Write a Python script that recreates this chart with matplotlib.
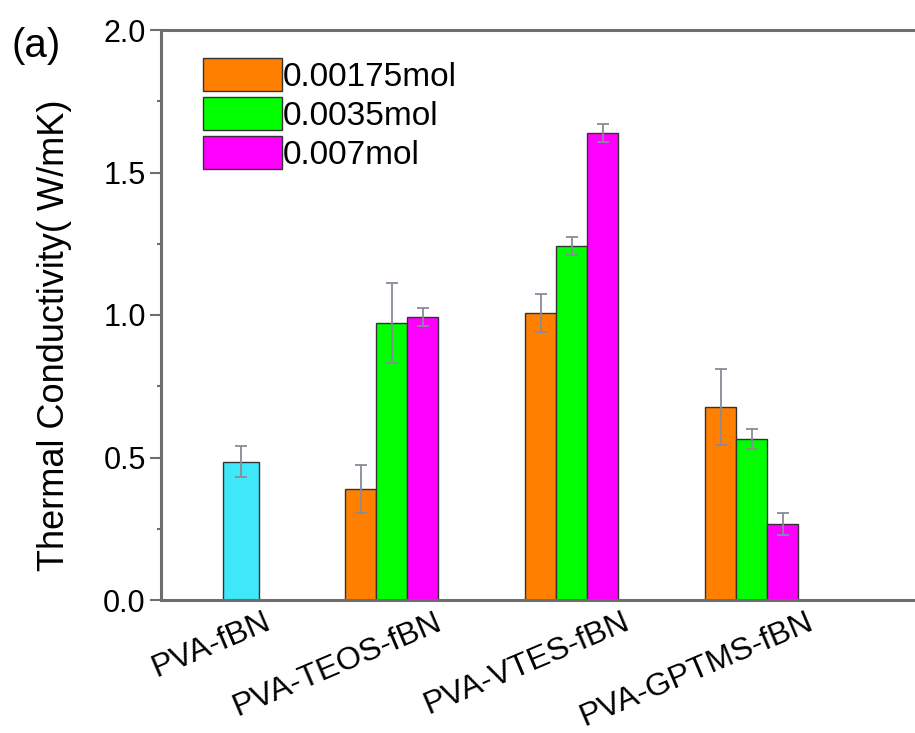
import numpy as np
import matplotlib
matplotlib.use("Agg")
import matplotlib.pyplot as plt

plt.rcParams['font.family'] = ['Liberation Sans', 'DejaVu Sans']

# data
categories = ['PVA-fBN', 'PVA-TEOS-fBN', 'PVA-VTES-fBN', 'PVA-GPTMS-fBN']
series = ['0.00175mol', '0.0035mol', '0.007mol']

pva_fbn = 0.485
pva_fbn_err = 0.055

# TEOS, VTES, GPTMS groups
vals_00175 = [0.39, 1.007, 0.677]
err_00175 = [0.085, 0.067, 0.133]
vals_0035 = [0.972, 1.242, 0.565]
err_0035 = [0.14, 0.032, 0.035]
vals_007 = [0.993, 1.638, 0.267]
err_007 = [0.03, 0.032, 0.038]

colors = ['#FF8000', '#00FF00', '#FF00FF']
cyan = '#3FE8F8'
err_color = '#8a8a98'
spine_color = '#6e6e6e'

# layout
group_x = np.array([1.0, 2.0, 3.0])
single_x = 0.162
w = 0.172
label_x = [0.285, 1.235, 2.28, 3.3]

fig = plt.figure(figsize=(9.15, 7.33), dpi=100)
ax = fig.add_axes([161 / 915, 133 / 733, 754 / 915, 570 / 733])

ekw = dict(ecolor=err_color, elinewidth=1.3, capsize=4.3, capthick=1.3)

ax.bar(single_x, pva_fbn, width=0.2, color=cyan, edgecolor='#333333',
       linewidth=1.0, yerr=pva_fbn_err, error_kw=ekw, zorder=2)

all_vals = [vals_00175, vals_0035, vals_007]
all_errs = [err_00175, err_0035, err_007]
for i, (v, e) in enumerate(zip(all_vals, all_errs)):
    ax.bar(group_x + (i - 1) * w, v, width=w, color=colors[i],
           edgecolor='#333333', linewidth=1.0, yerr=e, error_kw=ekw,
           label=series[i], zorder=2)

ax.set_ylim(0, 2.0)
ax.set_xlim(-0.283, 3.906)
ax.set_yticks([0.0, 0.5, 1.0, 1.5, 2.0])
ax.set_yticks([0.25, 0.75, 1.25, 1.75], minor=True)
ax.tick_params(axis='y', which='major', direction='out', length=8, width=1.5,
               color=spine_color, labelsize=22, pad=3)
ax.tick_params(axis='y', which='minor', direction='out', length=3, width=1.5,
               color=spine_color)

ax.set_xticks(label_x)
ax.set_xticklabels(categories, rotation=23, ha='right', va='top',
                   rotation_mode='anchor', fontsize=23)
ax.tick_params(axis='x', length=0, pad=5)

for s in ['left', 'bottom', 'top']:
    ax.spines[s].set_color(spine_color)
    ax.spines[s].set_linewidth(2.2)
ax.spines['right'].set_visible(False)

ax.set_ylabel('Thermal Conductivity( W/mK)', fontsize=26)
ax.yaxis.set_label_coords(-0.118, 0.465)

fig.text(11 / 915, 1 - 46 / 733, '(a)', fontsize=29, va='center', ha='left')

ax.legend(loc='upper left', bbox_to_anchor=(203 / 915, 1 - 58 / 733),
          bbox_transform=fig.transFigure, frameon=False, fontsize=24,
          handlelength=2.37, handleheight=1.15, labelspacing=0.12,
          handletextpad=0.03, borderpad=0, borderaxespad=0)

fig.savefig('out.png', dpi=100)
